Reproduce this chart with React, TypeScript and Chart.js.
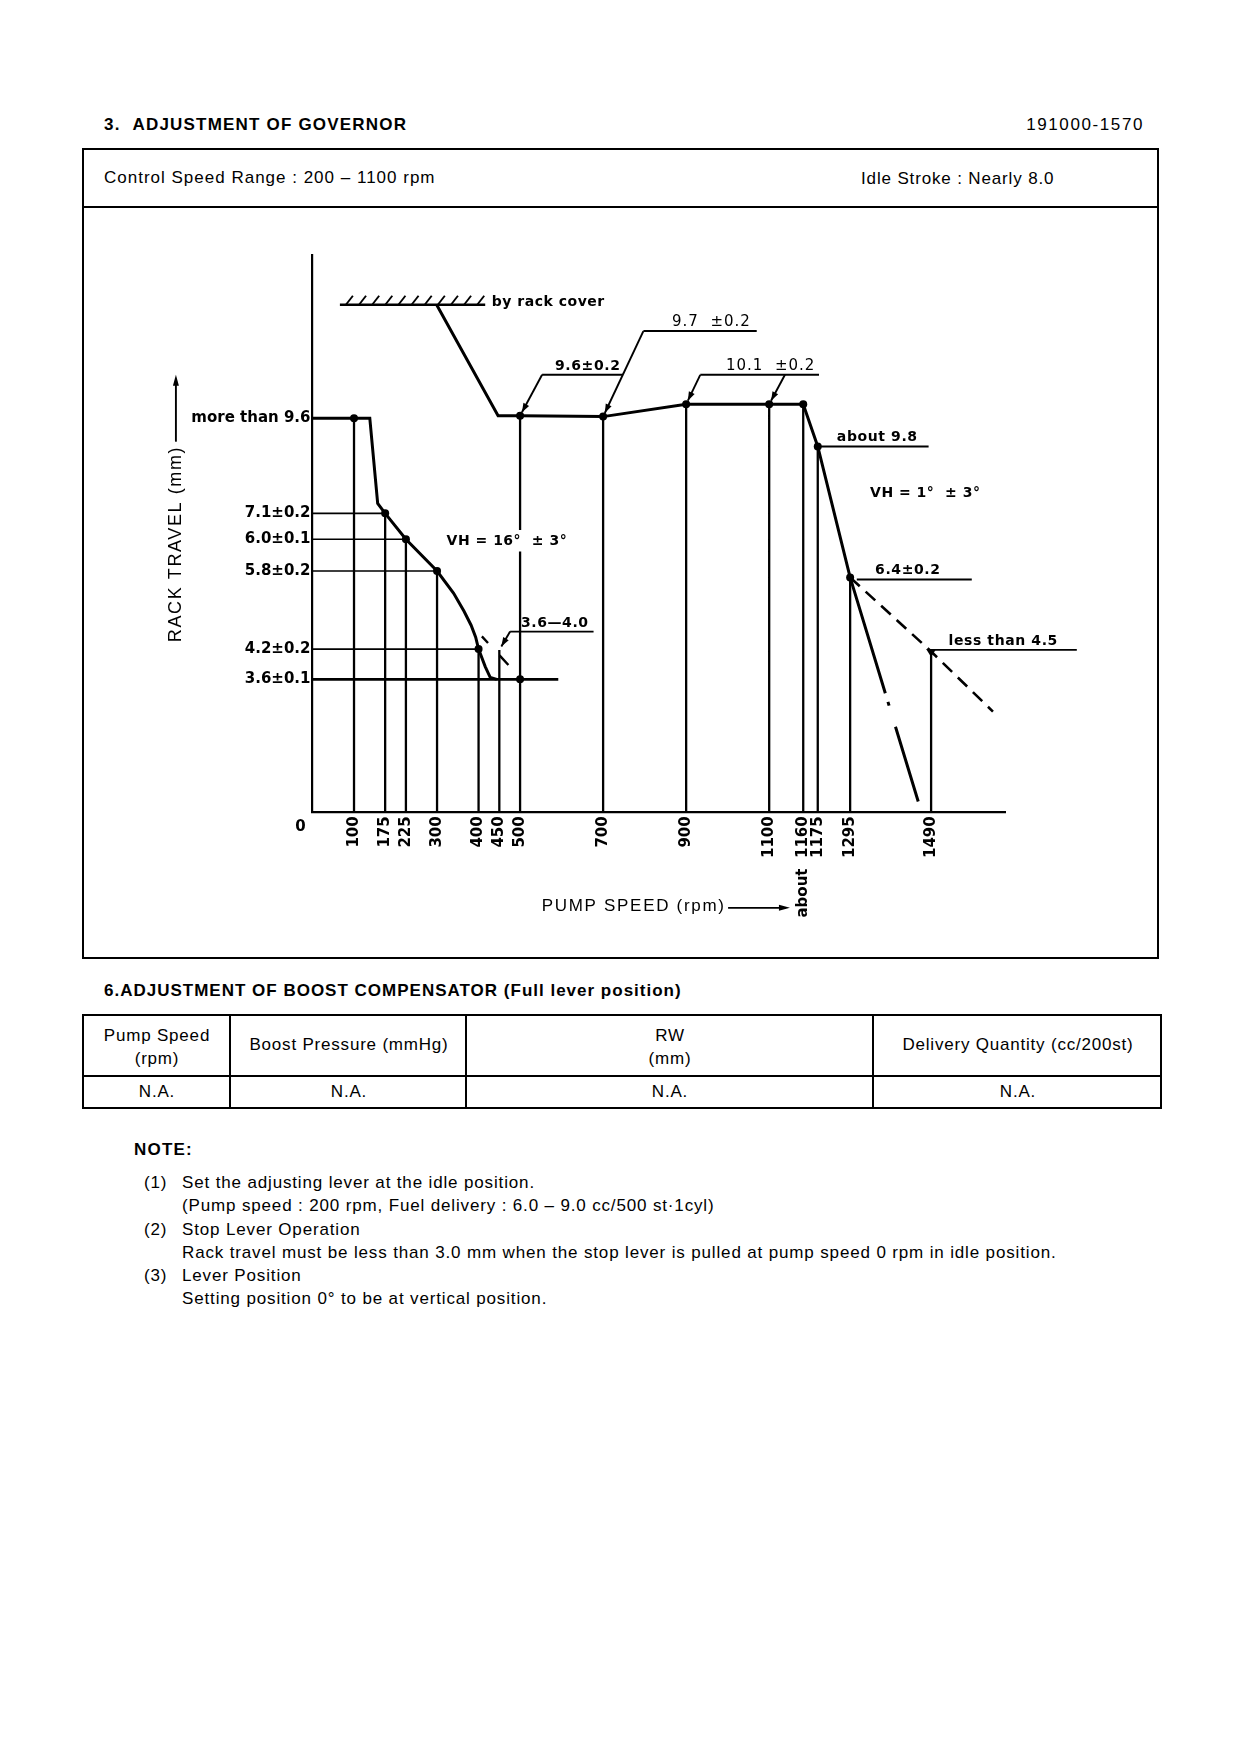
import React, { useEffect, useRef } from "react";
import { Chart, registerables } from "chart.js";

Chart.register(...registerables);

// ---------------- chart values (speed in rpm, rack travel in mm, as drawn in the schematic) ----------------
const speedTicks = [100, 175, 225, 300, 400, 450, 500, 700, 900, 1100, 1182, 1217, 1295, 1490];
const speedTickLabels = ["100", "175", "225", "300", "400", "450", "500", "700", "900", "1100", "about  1160", "1175", "1295", "1490"];
const dropLineTops = [9.9, 7.51, 6.86, 6.06, 4.1, 4.08, 9.96, 9.94, 10.25, 10.25, 10.25, 9.19, 5.9, 4.04];

const rackLevels = [9.9, 7.51, 6.86, 6.06, 4.1, 3.34];
const rackLevelLabels = ["more than 9.6", "7.1±0.2", "6.0±0.1", "5.8±0.2", "4.2±0.2", "3.6±0.1"];
const rackLevelEnds = [0, 175, 225, 300, 400, 592];

// idle / low-speed governing curve
const idleSpeed = [0, 100, 138, 157, 175, 225, 300, 340, 365, 382, 393, 400, 416, 428, 444];
const idleRack = [9.9, 9.9, 9.9, 7.76, 7.51, 6.86, 6.06, 5.5, 5.05, 4.7, 4.4, 4.1, 3.66, 3.39, 3.34];

// full-load curve (from rack cover stop down to 6.4)
const fullSpeed = [299, 447, 500, 700, 900, 1100, 1182, 1217, 1295];
const fullRack = [12.75, 9.96, 9.96, 9.94, 10.25, 10.25, 10.25, 9.19, 5.9];

// run-out (dash-dot) after the 6.4 point
const runoutSpeed = [1295, 1459];
const runoutRack = [5.9, 0.27];

// "less than 4.5" dashed line
const droopSpeed = [1295, 1490, 1639];
const droopRack = [5.9, 4.04, 2.53];

// dashed idle line near 400-500 rpm
const idleDashSpeed = [408, 504];
const idleDashRack = [4.42, 3.34];

// measuring points
const dotSpeed = [100, 175, 225, 300, 400, 500, 500, 700, 900, 1100, 1182, 1217, 1295];
const dotRack = [9.9, 7.51, 6.86, 6.06, 4.1, 3.34, 9.96, 9.94, 10.25, 10.25, 10.25, 9.19, 5.9];

// rack cover stop
const coverSpeed = [66, 416];
const coverRack = [12.75, 12.75];

// break in the 500 rpm line for the VH text
const gapSpeed = 500;
const gapRack = [6.55, 7.09];

// callouts (underlined spec labels)
const calloutLabels = ["9.6±0.2", "9.7  ±0.2", "10.1  ±0.2", "about 9.8", "6.4±0.2", "less than 4.5", "3.6—4.0"];
const calloutBold = [true, false, false, true, true, true, true];
const calloutFrom = [553, 797, 934, 1223, 1311, 1496, 476];
const calloutTo = [748, 1070, 1220, 1484, 1588, 1841, 677];
const calloutRack = [10.99, 12.09, 10.99, 9.19, 5.85, 4.08, 4.54];
const calloutTextSpeed = [584, 866, 996, 1263, 1355, 1532, 502];

// leader arrows: from (speed, rack) to (speed, rack)
const leaderFromSpeed = [553, 797, 934, 1138, 476];
const leaderFromRack = [10.99, 12.09, 10.99, 10.99, 4.54];
const leaderToSpeed = [500, 700, 900, 1100, 450];
const leaderToRack = [9.96, 9.94, 10.25, 10.25, 4.08];

// free texts
const noteLabels = ["VH = 16°  ± 3°", "VH = 1°  ± 3°", "by rack cover"];
const noteSpeed = [323, 1343, 432];
const noteRack = [6.8, 8.02, 12.8];

const DIAG = '"DejaVu Sans", sans-serif';
const PAGE = '"Liberation Sans", Arial, Helvetica, sans-serif';

const pts = (xs: number[], ys: number[]) => xs.map((x, i) => ({ x, y: ys[i] }));

function buildLevelLines(from: number, to: number) {
  const out: { x: number; y: number | null }[] = [];
  for (let i = from; i <= to; i++) {
    out.push({ x: 0, y: rackLevels[i] }, { x: rackLevelEnds[i], y: rackLevels[i] }, { x: rackLevelEnds[i], y: null });
  }
  return out;
}

function buildDropLines() {
  const out: { x: number; y: number | null }[] = [];
  speedTicks.forEach((s, i) => {
    if (s === gapSpeed) {
      out.push({ x: s, y: 0 }, { x: s, y: gapRack[0] }, { x: s, y: null }, { x: s, y: gapRack[1] }, { x: s, y: dropLineTops[i] }, { x: s, y: null });
    } else {
      out.push({ x: s, y: 0 }, { x: s, y: dropLineTops[i] }, { x: s, y: null });
    }
  });
  return out;
}

function drawText(ctx: CanvasRenderingContext2D, s: string, x: number, y: number, o: { bold?: boolean; size?: number; align?: CanvasTextAlign; baseline?: CanvasTextBaseline; spacing?: number; family?: string }) {
  ctx.font = `${o.bold ? "bold " : ""}${o.size || 14}px ${o.family || DIAG}`;
  ctx.textAlign = o.align || "left";
  ctx.textBaseline = o.baseline || "middle";
  (ctx as any).letterSpacing = `${o.spacing || 0}px`;
  ctx.fillText(s, x, y);
  (ctx as any).letterSpacing = "0px";
}

function arrowHead(ctx: CanvasRenderingContext2D, fx: number, fy: number, tx: number, ty: number, len = 9, half = 3.2) {
  const a = Math.atan2(ty - fy, tx - fx);
  ctx.beginPath();
  ctx.moveTo(tx, ty);
  ctx.lineTo(tx - len * Math.cos(a) + half * Math.sin(a), ty - len * Math.sin(a) - half * Math.cos(a));
  ctx.lineTo(tx - len * Math.cos(a) - half * Math.sin(a), ty - len * Math.sin(a) + half * Math.cos(a));
  ctx.closePath();
  ctx.fill();
}

const annotationPlugin = {
  id: "governorAnnotations",
  afterDatasetsDraw(chart: any) {
    const ctx: CanvasRenderingContext2D = chart.ctx;
    const xs = chart.scales.x;
    const ys = chart.scales.y;
    const X = (v: number) => xs.getPixelForValue(v);
    const Y = (v: number) => ys.getPixelForValue(v);
    ctx.save();
    ctx.fillStyle = "#000";
    ctx.strokeStyle = "#000";
    ctx.lineCap = "butt";

    // hatch of the rack cover stop
    const hy = Y(coverRack[0]);
    const hx0 = X(coverSpeed[0]);
    const hx1 = X(coverSpeed[1]);
    ctx.lineWidth = 1.9;
    const n = 11;
    for (let i = 0; i < n; i++) {
      const px = hx0 + 6 + (i * (hx1 - hx0 - 14)) / (n - 1);
      ctx.beginPath();
      ctx.moveTo(px, hy);
      ctx.lineTo(px + 7, hy - 9);
      ctx.stroke();
    }

    // callouts
    calloutLabels.forEach((label, i) => {
      const uy = Y(calloutRack[i]);
      ctx.lineWidth = 1.9;
      ctx.beginPath();
      ctx.moveTo(X(calloutFrom[i]), uy);
      ctx.lineTo(X(calloutTo[i]), uy);
      ctx.stroke();
      drawText(ctx, label, X(calloutTextSpeed[i]), uy - 5, {
        bold: calloutBold[i],
        size: calloutBold[i] ? 14 : 15,
        baseline: "alphabetic",
        spacing: calloutBold[i] ? 0.6 : 1.0,
      });
    });

    // leaders with arrows
    leaderFromSpeed.forEach((fs, i) => {
      const fx = X(fs);
      const fy = Y(leaderFromRack[i]);
      let tx = X(leaderToSpeed[i]);
      let ty = Y(leaderToRack[i]);
      const d = Math.hypot(tx - fx, ty - fy);
      const k = (d - 4) / d;
      tx = fx + (tx - fx) * k;
      ty = fy + (ty - fy) * k;
      ctx.lineWidth = 1.9;
      ctx.beginPath();
      ctx.moveTo(fx, fy);
      ctx.lineTo(tx, ty);
      ctx.stroke();
      arrowHead(ctx, fx, fy, tx, ty);
    });

    // downward arrow at the "less than 4.5" point
    {
      const ax = X(droopSpeed[1]);
      const ay = Y(calloutRack[5]);
      ctx.beginPath();
      ctx.moveTo(ax - 5, ay - 1);
      ctx.lineTo(ax + 5, ay - 1);
      ctx.lineTo(ax, ay + 7);
      ctx.closePath();
      ctx.fill();
    }

    // free texts
    noteLabels.forEach((t, i) => {
      drawText(ctx, t, X(noteSpeed[i]), Y(noteRack[i]), { bold: true, spacing: 0.5 });
    });

    // origin "0"
    drawText(ctx, "0", X(0) - 12, Y(0) + 15, { bold: true, size: 15, align: "center" });

    // y axis title with arrow
    {
      const cx = X(-329);
      const cy = Y(6.74);
      ctx.save();
      ctx.translate(cx, cy);
      ctx.rotate(-Math.PI / 2);
      drawText(ctx, "RACK TRAVEL (mm)", 0, 0, { size: 18, align: "center", spacing: 1.6, family: PAGE });
      ctx.restore();
      const top = Y(10.99);
      ctx.lineWidth = 1.9;
      ctx.beginPath();
      ctx.moveTo(cx, Y(9.31));
      ctx.lineTo(cx, top + 6);
      ctx.stroke();
      arrowHead(ctx, cx, Y(9.31), cx, top, 11, 3);
    }

    // x axis title with arrow
    {
      const ty = Y(-2.37);
      drawText(ctx, "PUMP SPEED (rpm)", X(552), ty, { size: 17, spacing: 1.7, family: PAGE });
      const y2 = Y(-2.4);
      ctx.lineWidth = 1.6;
      ctx.beginPath();
      ctx.moveTo(X(1001), y2);
      ctx.lineTo(X(1140), y2);
      ctx.stroke();
      arrowHead(ctx, X(1001), y2, X(1150), y2, 11, 3);
    }

    ctx.restore();
  },
};

const Txt = ({ x, r, y, bold, children, size = 17, sp }: { x?: number; r?: number; y: number; bold?: boolean; children: React.ReactNode; size?: number; sp?: number }) => (
  <div
    style={{
      position: "absolute",
      left: x,
      right: r,
      top: y - 12,
      height: 24,
      lineHeight: "24px",
      fontSize: size,
      fontWeight: bold ? 700 : 400,
      letterSpacing: `${sp ?? (bold ? 1.2 : 0.85)}px`,
      whiteSpace: "nowrap",
    }}
  >
    {children}
  </div>
);

const CTxt = ({ cx, y, children }: { cx: number; y: number; children: React.ReactNode }) => (
  <div
    style={{
      position: "absolute",
      left: cx - 200,
      width: 400,
      textAlign: "center",
      top: y - 12,
      height: 24,
      lineHeight: "24px",
      fontSize: 17,
      letterSpacing: "0.8px",
      whiteSpace: "nowrap",
    }}
  >
    {children}
  </div>
);

const Bar = ({ x, y, w, h }: { x: number; y: number; w: number; h: number }) => (
  <div style={{ position: "absolute", left: x, top: y, width: w, height: h, background: "#000" }} />
);

export default function App() {
  const ref = useRef<HTMLCanvasElement>(null);

  useEffect(() => {
    if (!ref.current) return;
    const chart = new Chart(ref.current, {
      type: "line",
      data: {
        datasets: [
          {
            label: "points",
            data: pts(dotSpeed, dotRack),
            showLine: false,
            pointRadius: 4,
            pointBackgroundColor: "#000",
            pointBorderWidth: 0,
          },
          {
            label: "idle curve",
            data: pts(idleSpeed, idleRack),
            borderColor: "#000",
            borderWidth: 3,
            pointRadius: 0,
            tension: 0,
          },
          {
            label: "full load",
            data: pts(fullSpeed, fullRack),
            borderColor: "#000",
            borderWidth: 3,
            pointRadius: 0,
            tension: 0,
          },
          {
            label: "run-out",
            data: pts(runoutSpeed, runoutRack),
            borderColor: "#000",
            borderWidth: 3,
            borderDash: [121, 9, 4, 22, 80],
            pointRadius: 0,
          },
          {
            label: "less than 4.5",
            data: pts(droopSpeed, droopRack),
            borderColor: "#000",
            borderWidth: 2.6,
            borderDash: [13, 8],
            pointRadius: 0,
          },
          {
            label: "idle dashed",
            data: pts(idleDashSpeed, idleDashRack),
            borderColor: "#000",
            borderWidth: 2.4,
            borderDash: [9, 17, 13, 40],
            pointRadius: 0,
          },
          {
            label: "rack cover",
            data: pts(coverSpeed, coverRack),
            borderColor: "#000",
            borderWidth: 2.4,
            pointRadius: 0,
          },
          {
            label: "idle floor",
            data: buildLevelLines(5, 5),
            borderColor: "#000",
            borderWidth: 2.6,
            pointRadius: 0,
          },
          {
            label: "levels",
            data: buildLevelLines(1, 4),
            borderColor: "#000",
            borderWidth: 1.6,
            pointRadius: 0,
          },
          {
            label: "drop lines",
            data: buildDropLines(),
            borderColor: "#000",
            borderWidth: 2.3,
            pointRadius: 0,
          },
        ],
      },
      options: {
        animation: false,
        responsive: false,
        maintainAspectRatio: false,
        devicePixelRatio: 1,
        events: [],
        layout: { padding: { top: 46, right: 151, left: 0, bottom: 0 } },
        plugins: { legend: { display: false }, tooltip: { enabled: false }, title: { display: false } },
        scales: {
          x: {
            type: "linear",
            min: 0,
            max: 1668,
            bounds: "data",
            grid: { display: false, drawTicks: false },
            border: { display: true, color: "#000", width: 2.2 },
            afterBuildTicks: (s: any) => {
              s.ticks = speedTicks.map((v) => ({ value: v }));
            },
            afterFit: (s: any) => {
              s.height = 143.7;
            },
            ticks: {
              autoSkip: false,
              minRotation: 90,
              maxRotation: 90,
              padding: 4,
              color: "#000",
              font: { family: DIAG, size: 15, weight: "bold" },
              callback: (_v: any, i: number) => speedTickLabels[i],
            },
          },
          y: {
            type: "linear",
            min: 0,
            max: 14,
            bounds: "data",
            grid: { display: false, drawTicks: false },
            border: { display: true, color: "#000", width: 2.2 },
            afterBuildTicks: (s: any) => {
              s.ticks = rackLevels.map((v) => ({ value: v }));
            },
            afterFit: (s: any) => {
              s.width = 227.5;
            },
            ticks: {
              autoSkip: false,
              padding: 2,
              color: "#000",
              font: { family: DIAG, size: 15, weight: "bold" },
              callback: (_v: any, i: number) => rackLevelLabels[i],
            },
          },
        },
      },
      plugins: [annotationPlugin],
    } as any);
    return () => chart.destroy();
  }, []);

  return (
    <div
      style={{
        position: "absolute",
        left: 0,
        top: 0,
        width: 1240,
        height: 1754,
        background: "#fff",
        color: "#000",
        fontFamily: PAGE,
      }}
    >
      <Txt x={104} y={125} bold sp={1.2}>
        3.&nbsp;&nbsp;ADJUSTMENT OF GOVERNOR
      </Txt>
      <Txt r={96} y={125} sp={1.6}>
        191000-1570
      </Txt>

      {/* chart box */}
      <Bar x={82} y={148} w={1077} h={2} />
      <Bar x={82} y={206} w={1077} h={2} />
      <Bar x={82} y={957} w={1077} h={2} />
      <Bar x={82} y={148} w={2} h={811} />
      <Bar x={1157} y={148} w={2} h={811} />
      <Txt x={104} y={178} sp={1.0}>
        Control Speed Range : 200 – 1100 rpm
      </Txt>
      <Txt x={861} y={179}>
        Idle Stroke : Nearly 8.0
      </Txt>
      <canvas ref={ref} width={1071} height={747} style={{ position: "absolute", left: 85, top: 209, width: 1071, height: 747 }} />

      {/* boost compensator */}
      <Txt x={104} y={991} bold sp={1.0}>
        6.ADJUSTMENT OF BOOST COMPENSATOR (Full lever position)
      </Txt>
      <Bar x={82} y={1014} w={1080} h={2} />
      <Bar x={82} y={1075} w={1080} h={2} />
      <Bar x={82} y={1107} w={1080} h={2} />
      <Bar x={82} y={1014} w={2} h={95} />
      <Bar x={229} y={1014} w={2} h={95} />
      <Bar x={465} y={1014} w={2} h={95} />
      <Bar x={872} y={1014} w={2} h={95} />
      <Bar x={1160} y={1014} w={2} h={95} />
      <CTxt cx={157} y={1036}>Pump Speed</CTxt>
      <CTxt cx={157} y={1059}>(rpm)</CTxt>
      <CTxt cx={349} y={1045}>Boost Pressure (mmHg)</CTxt>
      <CTxt cx={670} y={1036}>RW</CTxt>
      <CTxt cx={670} y={1059}>(mm)</CTxt>
      <CTxt cx={1018} y={1045}>Delivery Quantity (cc/200st)</CTxt>
      <CTxt cx={157} y={1092}>N.A.</CTxt>
      <CTxt cx={349} y={1092}>N.A.</CTxt>
      <CTxt cx={670} y={1092}>N.A.</CTxt>
      <CTxt cx={1018} y={1092}>N.A.</CTxt>

      {/* notes */}
      <Txt x={134} y={1150} bold>
        NOTE:
      </Txt>
      <Txt x={144} y={1183}>(1)</Txt>
      <Txt x={182} y={1183}>Set the adjusting lever at the idle position.</Txt>
      <Txt x={182} y={1206}>(Pump speed : 200 rpm, Fuel delivery : 6.0 – 9.0 cc/500 st·1cyl)</Txt>
      <Txt x={144} y={1230}>(2)</Txt>
      <Txt x={182} y={1230}>Stop Lever Operation</Txt>
      <Txt x={182} y={1253} sp={0.85}>
        Rack travel must be less than 3.0 mm when the stop lever is pulled at pump speed 0 rpm in idle position.
      </Txt>
      <Txt x={144} y={1276}>(3)</Txt>
      <Txt x={182} y={1276}>Lever Position</Txt>
      <Txt x={182} y={1299}>Setting position 0° to be at vertical position.</Txt>
    </div>
  );
}
